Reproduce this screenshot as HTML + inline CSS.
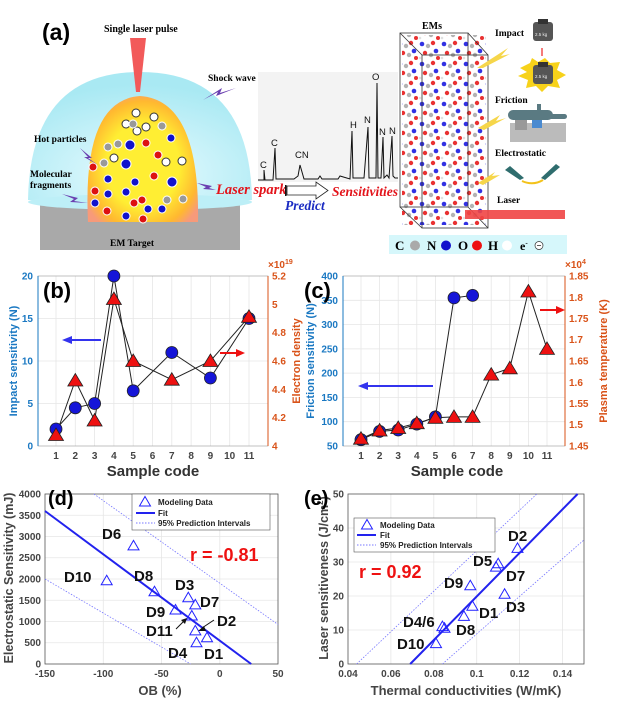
<!DOCTYPE html>
<html><head><meta charset="utf-8"><style>
html,body{margin:0;padding:0;background:#fff}
svg{display:block;font-family:"Liberation Sans",sans-serif}
.s{font-family:"Liberation Serif",serif;font-weight:bold}
.tk{font-size:10px;font-weight:bold;fill:#444}
.bl{font-size:10px;font-weight:bold;fill:#1a78c2}
.og{font-size:10px;font-weight:bold;fill:#d95319}
.lb{font-size:15px;font-weight:bold;fill:#111}
.g{stroke:#e6e6e6;stroke-width:.8}
</style></head><body>
<svg width="617" height="708" viewBox="0 0 617 708" xmlns="http://www.w3.org/2000/svg">
<defs>
<radialGradient id="dome" cx="50%" cy="80%" r="70%"><stop offset="0" stop-color="#e8fbff"/><stop offset="1" stop-color="#a9e9f3"/></radialGradient>
<radialGradient id="egg" cx="50%" cy="55%" r="60%"><stop offset="0.55" stop-color="#ffee33"/><stop offset="0.85" stop-color="#ffb830"/><stop offset="1" stop-color="#f79a7a"/></radialGradient>
<pattern id="atoms" width="22" height="20" patternUnits="userSpaceOnUse">
<rect width="22" height="20" fill="#fff"/>
<circle cx="4" cy="4" r="2.3" fill="#1a1ae0"/><circle cx="10" cy="6" r="2.2" fill="#aaa"/><circle cx="15" cy="3" r="2.2" fill="#e61a1a"/>
<circle cx="18" cy="11" r="2.3" fill="#1a1ae0"/><circle cx="7" cy="13" r="2.2" fill="#e61a1a"/><circle cx="13" cy="15" r="2.2" fill="#aaa"/>
<circle cx="2" cy="18" r="1.3" fill="#ddd"/><circle cx="20" cy="18" r="2" fill="#e61a1a"/>
</pattern>
<path id="tri" d="M0,-5.5 L5.5,4 L-5.5,4 Z" fill="none" stroke="#2222ff" stroke-width="1"/>
<path id="rtri" d="M0,-7 L7.5,5.5 L-7.5,5.5 Z" fill="#ee1111" stroke="#222" stroke-width="0.8"/>
</defs>

<!-- ===== (a) ===== -->
<text x="42" y="40" font-size="23" font-weight="bold">(a)</text>
<text x="104" y="32" class="s" font-size="10">Single laser pulse</text>
<rect x="40" y="200" width="200" height="50" fill="#a9a9a9"/>
<path d="M28,200 Q30,72 140,72 Q250,72 252,200 Z" fill="url(#dome)"/>
<ellipse cx="140" cy="202" rx="112" ry="8" fill="#bdeff7"/>
<path d="M130,38 L146,38 L140,92 L136,92 Z" fill="#f25a5a"/>
<path d="M88,222 Q82,100 140,96 Q200,100 198,222 Z" fill="url(#egg)"/>
<g stroke="#fff" stroke-width="1">
<circle cx="136" cy="113" r="4" fill="#fff" stroke="#333"/><circle cx="154" cy="117" r="4" fill="#fff" stroke="#333"/><circle cx="126" cy="124" r="4" fill="#fff" stroke="#333"/><circle cx="146" cy="127" r="4" fill="#fff" stroke="#333"/><circle cx="137" cy="131" r="4" fill="#fff" stroke="#333"/><circle cx="114" cy="158" r="4" fill="#fff" stroke="#333"/><circle cx="166" cy="162" r="4" fill="#fff" stroke="#333"/><circle cx="182" cy="161" r="4" fill="#fff" stroke="#333"/>
<circle cx="133" cy="124" r="4" fill="#999"/><circle cx="162" cy="126" r="4" fill="#999"/><circle cx="108" cy="147" r="4" fill="#999"/><circle cx="118" cy="144" r="4" fill="#999"/><circle cx="104" cy="163" r="4" fill="#999"/><circle cx="167" cy="200" r="4" fill="#999"/><circle cx="183" cy="199" r="4" fill="#999"/>
<circle cx="130" cy="145" r="5" fill="#1212cc"/><circle cx="126" cy="164" r="5" fill="#1212cc"/><circle cx="172" cy="182" r="5" fill="#1212cc"/><circle cx="108" cy="179" r="4" fill="#1212cc"/><circle cx="135" cy="182" r="4" fill="#1212cc"/><circle cx="126" cy="192" r="4" fill="#1212cc"/><circle cx="108" cy="194" r="4" fill="#1212cc"/><circle cx="95" cy="203" r="4" fill="#1212cc"/><circle cx="126" cy="216" r="4" fill="#1212cc"/><circle cx="148" cy="209" r="4" fill="#1212cc"/><circle cx="162" cy="209" r="4" fill="#1212cc"/><circle cx="171" cy="138" r="4" fill="#1212cc"/>
<circle cx="146" cy="143" r="4" fill="#dd1111"/><circle cx="158" cy="155" r="4" fill="#dd1111"/><circle cx="93" cy="167" r="4" fill="#dd1111"/><circle cx="154" cy="176" r="4" fill="#dd1111"/><circle cx="95" cy="191" r="4" fill="#dd1111"/><circle cx="134" cy="203" r="4" fill="#dd1111"/><circle cx="107" cy="211" r="4" fill="#dd1111"/><circle cx="142" cy="200" r="4" fill="#dd1111"/><circle cx="143" cy="219" r="4" fill="#dd1111"/>
</g>
<text x="208" y="81" class="s" font-size="9.5">Shock wave</text>
<path d="M203,100 L222,88 L220,93 L236,88 L216,96 L218,92 Z" fill="#6a3fb0"/>
<text x="34" y="142" class="s" font-size="9.5">Hot particles</text>
<path d="M80,148 L92,158 L88,158 L98,165 L84,157 L88,157 Z" fill="#6a3fb0"/>
<text x="30" y="177" class="s" font-size="9.5">Molecular</text>
<text x="30" y="188" class="s" font-size="9.5">fragments</text>
<path d="M62,194 L78,198 L74,201 L88,203 L70,202 L74,199 Z" fill="#6a3fb0"/>
<path d="M197,183 L212,186 L209,188 L216,190 L203,189 L206,187 Z" fill="#6a3fb0"/>
<text x="216" y="194" font-family="Liberation Serif,serif" font-style="italic" font-weight="bold" font-size="14.5" fill="#e3141b">Laser spark</text>
<text x="110" y="246" class="s" font-size="9.5">EM Target</text>
<!-- spectrum -->
<rect x="258" y="72" width="140" height="110" fill="#f3f3f3"/>
<polyline points="258,180 264,180 264,170 265,180 273,180 275,148 276,179 294,179 298,176 300,165 302,172 304,179 318,179 320,176 322,179 338,179 340,176 350,179 352,131 353,178 364,178 368,127 369,178 376,178 377,83 378,178 381,178 383,137 384,178 387,175 389,178 392,136 393,176 395,178 398,178" fill="none" stroke="#111" stroke-width="1"/>
<g font-size="9.5" fill="#111"><text x="260" y="168">C</text><text x="271" y="146">C</text><text x="295" y="158">CN</text><text x="350" y="128">H</text><text x="364" y="123">N</text><text x="372" y="80">O</text><text x="379" y="135">N</text><text x="389" y="134">N</text></g>
<rect x="285" y="185" width="1.5" height="11" fill="#111"/>
<path d="M287,186 L316,186 L316,182 L328,190.5 L316,199 L316,195 L287,195 Z" fill="#fff" stroke="#222" stroke-width="0.8"/>
<text x="332" y="196" font-family="Liberation Serif,serif" font-style="italic" font-weight="bold" font-size="13.5" fill="#e3141b">Sensitivities</text>
<text x="285" y="210" font-family="Liberation Serif,serif" font-style="italic" font-weight="bold" font-size="13.5" fill="#1a2bc2">Predict</text>
<!-- crystal -->
<text x="422" y="29" class="s" font-size="10">EMs</text>
<rect x="402" y="35" width="84" height="190" fill="url(#atoms)" opacity="0.9"/>
<g fill="none" stroke="#333" stroke-width="0.8">
<rect x="400" y="33" width="68" height="174"/><rect x="422" y="55" width="66" height="173"/>
<line x1="400" y1="33" x2="422" y2="55"/><line x1="468" y1="33" x2="488" y2="55"/><line x1="400" y1="207" x2="422" y2="228"/><line x1="468" y1="207" x2="488" y2="228"/></g>
<path d="M477,68 L508,48 L501,56 L510,54 L483,68 Z" fill="#f6d64a"/>
<path d="M478,128 L500,115 L496,121 L506,118 L484,130 Z" fill="#f6d64a"/>
<path d="M478,183 L495,172 L492,176 L500,175 L483,185 Z" fill="#f6d64a"/>
<rect x="465" y="210" width="100" height="9" fill="#f04545" opacity="0.9"/>
<text x="495" y="36" class="s" font-size="9.5">Impact</text>
<rect x="533" y="22" width="20" height="19" rx="3" fill="#555"/><rect x="538" y="19" width="10" height="5" fill="#333"/>
<text x="535" y="36" font-size="4.5" fill="#eee">2.5 kg</text>
<line x1="542" y1="48" x2="542" y2="56" stroke="#e22" stroke-width="1.2"/>
<path d="M520,68 L530,63 L532,58 L538,62 L545,58 L550,63 L560,62 L557,70 L566,75 L557,80 L560,88 L548,86 L542,92 L536,86 L526,88 L528,80 L518,76 L527,72 Z" fill="#f7d21a"/>
<rect x="533" y="65" width="20" height="19" rx="3" fill="#555"/><rect x="538" y="62" width="10" height="5" fill="#333"/>
<text x="535" y="78" font-size="4.5" fill="#eee">2.5 kg</text>
<text x="495" y="103" class="s" font-size="9.5">Friction</text>
<rect x="510" y="123" width="56" height="19" fill="#bbb"/><rect x="515" y="118" width="12" height="12" fill="#999"/>
<rect x="532" y="118" width="10" height="10" fill="#4a8ad0"/>
<rect x="508" y="110" width="45" height="10" rx="5" fill="#5a7a82"/><rect x="545" y="114" width="22" height="5" rx="2.5" fill="#5a7a82"/>
<rect x="537" y="104" width="4" height="6" fill="#5a7a82"/>
<text x="495" y="156" class="s" font-size="9.5">Electrostatic</text>
<path d="M505,170 L520,180 L524,178 L510,166 Z" fill="#2f6d6e"/><path d="M560,167 L545,180 L541,178 L556,164 Z" fill="#2f6d6e"/>
<path d="M522,181 Q533,186 543,180" fill="none" stroke="#f3c21a" stroke-width="2"/>
<text x="497" y="203" class="s" font-size="9.5">Laser</text>
<rect x="389" y="235" width="178" height="19" fill="#d6f7fb"/>
<text x="395" y="250" class="s" font-size="13">C</text><circle cx="415" cy="245.5" r="5" fill="#aaa"/>
<text x="427" y="250" class="s" font-size="13">N</text><circle cx="446" cy="245.5" r="5" fill="#1111cc"/>
<text x="458" y="250" class="s" font-size="13">O</text><circle cx="477" cy="245.5" r="5" fill="#ee1111"/>
<text x="488" y="250" class="s" font-size="13">H</text><circle cx="507" cy="245.5" r="5" fill="#fff"/>
<text x="520" y="250" class="s" font-size="12">e<tspan font-size="7" dy="-5">-</tspan></text><circle cx="539" cy="245.5" r="4" fill="#fff" stroke="#333" stroke-width="0.7"/><line x1="537" y1="245.5" x2="541" y2="245.5" stroke="#333" stroke-width="0.8"/>

<!-- ===== (b) ===== -->
<g class="g"><line x1="38" y1="403.5" x2="268" y2="403.5"/><line x1="38" y1="361" x2="268" y2="361"/><line x1="38" y1="318.5" x2="268" y2="318.5"/>
<line x1="56" y1="276" x2="56" y2="446"/><line x1="75.3" y1="276" x2="75.3" y2="446"/><line x1="94.6" y1="276" x2="94.6" y2="446"/><line x1="113.9" y1="276" x2="113.9" y2="446"/><line x1="133.2" y1="276" x2="133.2" y2="446"/><line x1="152.5" y1="276" x2="152.5" y2="446"/><line x1="171.8" y1="276" x2="171.8" y2="446"/><line x1="191.1" y1="276" x2="191.1" y2="446"/><line x1="210.4" y1="276" x2="210.4" y2="446"/><line x1="229.7" y1="276" x2="229.7" y2="446"/><line x1="249" y1="276" x2="249" y2="446"/></g>
<rect x="38" y="276" width="230" height="170" fill="none" stroke="#999" stroke-width="0.6"/>
<line x1="38" y1="276" x2="38" y2="446" stroke="#1a78c2"/><line x1="268" y1="276" x2="268" y2="446" stroke="#d95319"/>
<g class="bl" text-anchor="end"><text x="33" y="449.5">0</text><text x="33" y="407">5</text><text x="33" y="364.5">10</text><text x="33" y="322">15</text><text x="33" y="279.5">20</text></g>
<g class="og"><text x="272" y="449.5">4</text><text x="272" y="421">4.2</text><text x="272" y="393">4.4</text><text x="272" y="364.5">4.6</text><text x="272" y="336">4.8</text><text x="272" y="308">5</text><text x="272" y="279.5">5.2</text><text x="268" y="268">×10<tspan font-size="7" dy="-4">19</tspan></text></g>
<g class="tk" text-anchor="middle"><text x="56" y="459">1</text><text x="75.3" y="459">2</text><text x="94.6" y="459">3</text><text x="113.9" y="459">4</text><text x="133.2" y="459">5</text><text x="152.5" y="459">6</text><text x="171.8" y="459">7</text><text x="191.1" y="459">8</text><text x="210.4" y="459">9</text><text x="229.7" y="459">10</text><text x="249" y="459">11</text></g>
<text x="153" y="476" text-anchor="middle" font-size="15" font-weight="bold" fill="#333">Sample code</text>
<text transform="translate(17,361) rotate(-90)" text-anchor="middle" font-size="11" font-weight="bold" fill="#1a78c2">Impact sensitivity (N)</text>
<text transform="translate(300,361) rotate(-90)" text-anchor="middle" font-size="11" font-weight="bold" fill="#d95319">Electron density</text>
<text x="43" y="298" font-size="22" font-weight="bold">(b)</text>
<polyline points="56,429 75.3,407.8 94.6,403.5 113.9,276 133.2,390.8 171.8,352.5 210.4,378 249,318.5" fill="none" stroke="#222"/>
<polyline points="56,435 75.3,380.5 94.6,420.5 113.9,299 133.2,361 171.8,379.7 210.4,361 249,316.8" fill="none" stroke="#222"/>
<g fill="#1515d8" stroke="#222" stroke-width="0.8"><circle cx="56" cy="429" r="6"/><circle cx="75.3" cy="407.8" r="6"/><circle cx="94.6" cy="403.5" r="6"/><circle cx="113.9" cy="276" r="6"/><circle cx="133.2" cy="390.8" r="6"/><circle cx="171.8" cy="352.5" r="6"/><circle cx="210.4" cy="378" r="6"/><circle cx="249" cy="318.5" r="6"/></g>
<use href="#rtri" x="56" y="435"/><use href="#rtri" x="75.3" y="380.5"/><use href="#rtri" x="94.6" y="420.5"/><use href="#rtri" x="113.9" y="299"/><use href="#rtri" x="133.2" y="361"/><use href="#rtri" x="171.8" y="379.7"/><use href="#rtri" x="210.4" y="361"/><use href="#rtri" x="249" y="316.8"/>
<line x1="70" y1="340" x2="101" y2="340" stroke="#3333ee" stroke-width="2"/><path d="M62,340 L72,336 L72,344 Z" fill="#3333ee"/>
<line x1="220" y1="353" x2="237" y2="353" stroke="#ee1111" stroke-width="2"/><path d="M245,353 L236,349 L236,357 Z" fill="#ee1111"/>

<!-- ===== (c) ===== -->
<g class="g"><line x1="343" y1="421.7" x2="565" y2="421.7"/><line x1="343" y1="397.4" x2="565" y2="397.4"/><line x1="343" y1="373.1" x2="565" y2="373.1"/><line x1="343" y1="348.9" x2="565" y2="348.9"/><line x1="343" y1="324.6" x2="565" y2="324.6"/><line x1="343" y1="300.3" x2="565" y2="300.3"/>
<line x1="361" y1="276" x2="361" y2="446"/><line x1="379.6" y1="276" x2="379.6" y2="446"/><line x1="398.2" y1="276" x2="398.2" y2="446"/><line x1="416.8" y1="276" x2="416.8" y2="446"/><line x1="435.4" y1="276" x2="435.4" y2="446"/><line x1="454" y1="276" x2="454" y2="446"/><line x1="472.6" y1="276" x2="472.6" y2="446"/><line x1="491.2" y1="276" x2="491.2" y2="446"/><line x1="509.8" y1="276" x2="509.8" y2="446"/><line x1="528.4" y1="276" x2="528.4" y2="446"/><line x1="547" y1="276" x2="547" y2="446"/></g>
<rect x="343" y="276" width="222" height="170" fill="none" stroke="#999" stroke-width="0.6"/>
<line x1="343" y1="276" x2="343" y2="446" stroke="#1a78c2"/><line x1="565" y1="276" x2="565" y2="446" stroke="#d95319"/>
<g class="bl" text-anchor="end"><text x="338" y="449.5">50</text><text x="338" y="425">100</text><text x="338" y="401">150</text><text x="338" y="376.5">200</text><text x="338" y="352.5">250</text><text x="338" y="328">300</text><text x="338" y="304">350</text><text x="338" y="279.5">400</text></g>
<g class="og"><text x="569" y="449.5">1.45</text><text x="569" y="428">1.5</text><text x="569" y="407">1.55</text><text x="569" y="386">1.6</text><text x="569" y="364.5">1.65</text><text x="569" y="343">1.7</text><text x="569" y="322">1.75</text><text x="569" y="301">1.8</text><text x="569" y="279.5">1.85</text><text x="565" y="268">×10<tspan font-size="7" dy="-4">4</tspan></text></g>
<g class="tk" text-anchor="middle"><text x="361" y="459">1</text><text x="379.6" y="459">2</text><text x="398.2" y="459">3</text><text x="416.8" y="459">4</text><text x="435.4" y="459">5</text><text x="454" y="459">6</text><text x="472.6" y="459">7</text><text x="491.2" y="459">8</text><text x="509.8" y="459">9</text><text x="528.4" y="459">10</text><text x="547" y="459">11</text></g>
<text x="457" y="476" text-anchor="middle" font-size="15" font-weight="bold" fill="#333">Sample code</text>
<text transform="translate(314,361) rotate(-90)" text-anchor="middle" font-size="11" font-weight="bold" fill="#1a78c2">Friction sensitivity (N)</text>
<text transform="translate(607,361) rotate(-90)" text-anchor="middle" font-size="11" font-weight="bold" fill="#d95319">Plasma temperature (K)</text>
<text x="304" y="298" font-size="22" font-weight="bold">(c)</text>
<polyline points="361,439.7 379.6,431.4 398.2,430 416.8,424.1 435.4,416.9 454,297.9 472.6,295.4" fill="none" stroke="#222"/>
<polyline points="361,438.7 379.6,430.5 398.2,428 416.8,423.2 435.4,417.8 454,416.9 472.6,416.9 491.2,374.6 509.8,368.3 528.4,291.5 547,348.9" fill="none" stroke="#222"/>
<g fill="#1515d8" stroke="#222" stroke-width="0.8"><circle cx="361" cy="439.7" r="6"/><circle cx="379.6" cy="431.4" r="6"/><circle cx="398.2" cy="430" r="6"/><circle cx="416.8" cy="424.1" r="6"/><circle cx="435.4" cy="416.9" r="6"/><circle cx="454" cy="297.9" r="6"/><circle cx="472.6" cy="295.4" r="6"/></g>
<use href="#rtri" x="361" y="438.7"/><use href="#rtri" x="379.6" y="430.5"/><use href="#rtri" x="398.2" y="428"/><use href="#rtri" x="416.8" y="423.2"/><use href="#rtri" x="435.4" y="417.8"/><use href="#rtri" x="454" y="416.9"/><use href="#rtri" x="472.6" y="416.9"/><use href="#rtri" x="491.2" y="374.6"/><use href="#rtri" x="509.8" y="368.3"/><use href="#rtri" x="528.4" y="291.5"/><use href="#rtri" x="547" y="348.9"/>
<line x1="366" y1="386" x2="433" y2="386" stroke="#3333ee" stroke-width="2"/><path d="M358,386 L368,382 L368,390 Z" fill="#3333ee"/>
<line x1="540" y1="310" x2="557" y2="310" stroke="#ee1111" stroke-width="2"/><path d="M565,310 L556,306 L556,314 Z" fill="#ee1111"/>

<!-- ===== (d) ===== -->
<g class="g"><line x1="103.3" y1="494" x2="103.3" y2="664"/><line x1="161.5" y1="494" x2="161.5" y2="664"/><line x1="219.8" y1="494" x2="219.8" y2="664"/>
<line x1="45" y1="642.75" x2="278" y2="642.75"/><line x1="45" y1="621.5" x2="278" y2="621.5"/><line x1="45" y1="600.25" x2="278" y2="600.25"/><line x1="45" y1="579" x2="278" y2="579"/><line x1="45" y1="557.75" x2="278" y2="557.75"/><line x1="45" y1="536.5" x2="278" y2="536.5"/><line x1="45" y1="515.25" x2="278" y2="515.25"/></g>
<rect x="45" y="494" width="233" height="170" fill="none" stroke="#555" stroke-width="0.8"/>
<g class="tk" text-anchor="end"><text x="41" y="667.5">0</text><text x="41" y="646">500</text><text x="41" y="625">1000</text><text x="41" y="604">1500</text><text x="41" y="582.5">2000</text><text x="41" y="561">2500</text><text x="41" y="540">3000</text><text x="41" y="519">3500</text><text x="41" y="497.5">4000</text></g>
<g class="tk" text-anchor="middle"><text x="45" y="677">-150</text><text x="103.3" y="677">-100</text><text x="161.5" y="677">-50</text><text x="219.8" y="677">0</text><text x="278" y="677">50</text></g>
<text x="160" y="695" text-anchor="middle" font-size="13" font-weight="bold" fill="#444">OB (%)</text>
<text transform="translate(13,578) rotate(-90)" text-anchor="middle" font-size="12.5" font-weight="bold" fill="#444">Electrostatic Sensitivity (mJ)</text>
<line x1="45" y1="511" x2="251.2" y2="664" stroke="#2222ee" stroke-width="2"/>
<line x1="93.9" y1="494" x2="278" y2="624.5" stroke="#7777ff" stroke-width="0.8" stroke-dasharray="1.5,1.5"/>
<line x1="45" y1="579" x2="190.6" y2="664" stroke="#7777ff" stroke-width="0.8" stroke-dasharray="1.5,1.5"/>
<use href="#tri" x="133.5" y="545.9"/><use href="#tri" x="106.7" y="580.7"/><use href="#tri" x="154.5" y="591.8"/><use href="#tri" x="188.3" y="597.7"/><use href="#tri" x="195.3" y="604.9"/><use href="#tri" x="175.5" y="610"/><use href="#tri" x="191.8" y="616"/><use href="#tri" x="195.3" y="630.9"/><use href="#tri" x="207" y="637.7"/><use href="#tri" x="196.5" y="642.8"/>
<rect x="132" y="494" width="138" height="36" fill="#fff" stroke="#555" stroke-width="0.6"/>
<use href="#tri" x="145" y="502"/><line x1="136" y1="513" x2="155" y2="513" stroke="#2222ee" stroke-width="2"/><line x1="136" y1="523" x2="155" y2="523" stroke="#7777ff" stroke-dasharray="1.5,1.5"/>
<g font-size="8" font-weight="bold" fill="#222"><text x="158" y="505">Modeling Data</text><text x="158" y="516">Fit</text><text x="158" y="526">95% Prediction Intervals</text></g>
<text x="48" y="505" font-size="20" font-weight="bold">(d)</text>
<text x="190" y="561" font-size="18" font-weight="bold" fill="#ee1111">r = -0.81</text>
<g class="lb"><text x="102" y="539">D6</text><text x="64" y="582">D10</text><text x="134" y="581">D8</text><text x="175" y="590">D3</text><text x="200" y="607">D7</text><text x="146" y="617">D9</text><text x="146" y="636">D11</text><text x="217" y="626">D2</text><text x="168" y="658">D4</text><text x="204" y="659">D1</text></g>
<line x1="176" y1="629" x2="184" y2="621" stroke="#111"/><path d="M187,618 L181,620 L185,624 Z" fill="#111"/>
<line x1="214" y1="620" x2="202" y2="628" stroke="#111"/><path d="M198,631 L204,626 L206,631 Z" fill="#111"/>

<!-- ===== (e) ===== -->
<g class="g"><line x1="390.9" y1="494" x2="390.9" y2="664"/><line x1="433.8" y1="494" x2="433.8" y2="664"/><line x1="476.7" y1="494" x2="476.7" y2="664"/><line x1="519.6" y1="494" x2="519.6" y2="664"/><line x1="562.5" y1="494" x2="562.5" y2="664"/>
<line x1="348" y1="630" x2="584" y2="630"/><line x1="348" y1="596" x2="584" y2="596"/><line x1="348" y1="562" x2="584" y2="562"/><line x1="348" y1="528" x2="584" y2="528"/></g>
<rect x="348" y="494" width="236" height="170" fill="none" stroke="#555" stroke-width="0.8"/>
<g class="tk" text-anchor="end"><text x="344" y="667.5">0</text><text x="344" y="633.5">10</text><text x="344" y="599.5">20</text><text x="344" y="565.5">30</text><text x="344" y="531.5">40</text><text x="344" y="497.5">50</text></g>
<g class="tk" text-anchor="middle"><text x="348" y="677">0.04</text><text x="390.9" y="677">0.06</text><text x="433.8" y="677">0.08</text><text x="476.7" y="677">0.1</text><text x="519.6" y="677">0.12</text><text x="562.5" y="677">0.14</text></g>
<text x="466" y="695" text-anchor="middle" font-size="13" font-weight="bold" fill="#444">Thermal conductivities (W/mK)</text>
<text transform="translate(328,578) rotate(-90)" text-anchor="middle" font-size="12.5" font-weight="bold" fill="#444">Laser sensitiveness (J/cm<tspan font-size="8" dy="-5">2</tspan><tspan dy="5">)</tspan></text>
<line x1="410.2" y1="664" x2="577.6" y2="494" stroke="#2222ee" stroke-width="2"/>
<line x1="356.6" y1="664" x2="536.8" y2="494" stroke="#7777ff" stroke-width="0.8" stroke-dasharray="1.5,1.5"/>
<line x1="442.4" y1="664" x2="584" y2="539.9" stroke="#7777ff" stroke-width="0.8" stroke-dasharray="1.5,1.5"/>
<use href="#tri" x="517.5" y="548.4"/><use href="#tri" x="498.2" y="563.7"/><use href="#tri" x="496" y="567.1"/><use href="#tri" x="470.3" y="585.8"/><use href="#tri" x="504.6" y="594.3"/><use href="#tri" x="472.4" y="606.2"/><use href="#tri" x="463.9" y="616.4"/><use href="#tri" x="442.4" y="626.6"/><use href="#tri" x="444.5" y="628.3"/><use href="#tri" x="436" y="643.6"/>
<rect x="354" y="518" width="141" height="34" fill="#fff" stroke="#555" stroke-width="0.6"/>
<use href="#tri" x="367" y="525"/><line x1="357" y1="535" x2="376" y2="535" stroke="#2222ee" stroke-width="2"/><line x1="357" y1="545" x2="376" y2="545" stroke="#7777ff" stroke-dasharray="1.5,1.5"/>
<g font-size="8" font-weight="bold" fill="#222"><text x="380" y="528">Modeling Data</text><text x="380" y="538">Fit</text><text x="380" y="548">95% Prediction Intervals</text></g>
<text x="304" y="505" font-size="20" font-weight="bold">(e)</text>
<text x="359" y="578" font-size="18" font-weight="bold" fill="#ee1111">r = 0.92</text>
<g class="lb"><text x="508" y="541">D2</text><text x="473" y="566">D5</text><text x="506" y="581">D7</text><text x="444" y="588">D9</text><text x="506" y="612">D3</text><text x="479" y="618">D1</text><text x="403" y="627">D4/6</text><text x="456" y="635">D8</text><text x="397" y="649">D10</text></g>
</svg>
</body></html>
